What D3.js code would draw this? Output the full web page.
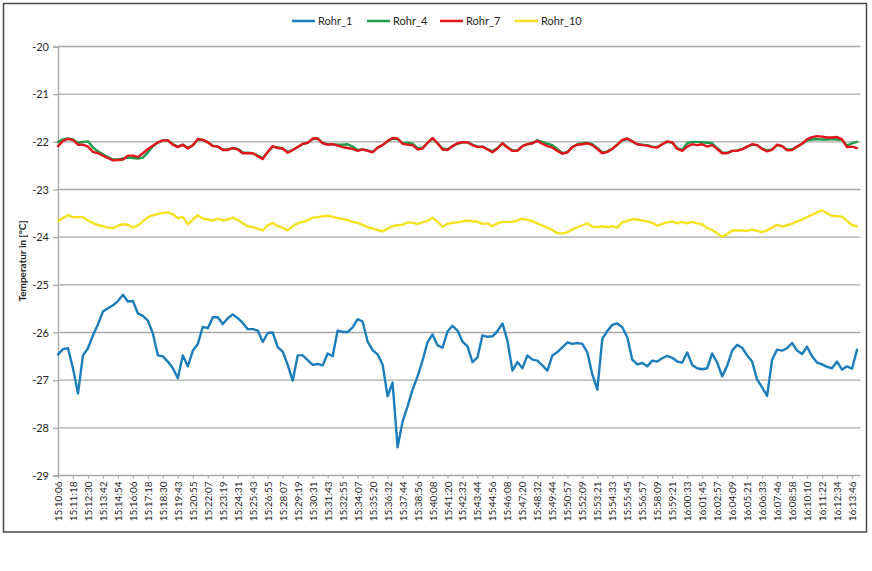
<!DOCTYPE html>
<html>
<head>
<meta charset="utf-8">
<script src="https://cdn.jsdelivr.net/npm/d3@7"></script>
<style>
  html, body { margin: 0; padding: 0; background: #fff; }
  svg { display: block; }
  text { font-family: Lato, "Open Sans", sans-serif; fill: #262626; }
</style>
</head>
<body>
<svg id="chart" width="872" height="571"></svg>
<script>
// ---- Data ----
const timeLabels = ["15:10:06","15:11:18","15:12:30","15:13:42","15:14:54","15:16:06","15:17:18","15:18:30","15:19:43","15:20:55","15:22:07","15:23:19","15:24:31","15:25:43","15:26:55","15:28:07","15:29:19","15:30:31","15:31:43","15:32:55","15:34:07","15:35:20","15:36:32","15:37:44","15:38:56","15:40:08","15:41:20","15:42:32","15:43:44","15:44:56","15:46:08","15:47:20","15:48:32","15:49:44","15:50:57","15:52:09","15:53:21","15:54:33","15:55:45","15:56:57","15:58:09","15:59:21","16:00:33","16:01:45","16:02:57","16:04:09","16:05:21","16:06:33","16:07:46","16:08:58","16:10:10","16:11:22","16:12:34","16:13:46"];
const samplesPerLabel = 3; // one sample every 24 s, a label every 72 s

const seriesNames = ["Rohr_1", "Rohr_4", "Rohr_7", "Rohr_10"];
const yTicks = [-20, -21, -22, -23, -24, -25, -26, -27, -28, -29];

const rohr1 = [-26.46,-26.35,-26.33,-26.75,-27.28,-26.48,-26.33,-26.06,-25.83,-25.56,
-25.49,-25.43,-25.34,-25.21,-25.35,-25.34,-25.60,-25.65,-25.75,-26.02,
-26.48,-26.50,-26.61,-26.75,-26.96,-26.48,-26.71,-26.38,-26.24,-25.88,
-25.91,-25.68,-25.68,-25.82,-25.70,-25.62,-25.70,-25.80,-25.93,-25.93,
-25.96,-26.20,-26.01,-26.00,-26.31,-26.40,-26.68,-27.01,-26.48,-26.48,
-26.58,-26.68,-26.66,-26.69,-26.44,-26.50,-25.96,-25.99,-25.99,-25.89,
-25.72,-25.77,-26.19,-26.37,-26.46,-26.67,-27.34,-27.05,-28.41,-27.87,
-27.55,-27.20,-26.92,-26.59,-26.20,-26.04,-26.27,-26.32,-25.98,-25.86,
-25.96,-26.19,-26.29,-26.62,-26.52,-26.06,-26.09,-26.08,-25.97,-25.81,
-26.17,-26.80,-26.62,-26.75,-26.48,-26.57,-26.59,-26.69,-26.80,-26.48,
-26.41,-26.31,-26.21,-26.24,-26.22,-26.24,-26.42,-26.88,-27.20,-26.13,
-25.97,-25.84,-25.81,-25.89,-26.10,-26.57,-26.67,-26.64,-26.71,-26.59,
-26.61,-26.54,-26.49,-26.53,-26.61,-26.63,-26.42,-26.68,-26.75,-26.77,
-26.75,-26.44,-26.63,-26.92,-26.70,-26.38,-26.26,-26.32,-26.48,-26.61,
-26.99,-27.15,-27.33,-26.57,-26.36,-26.38,-26.33,-26.22,-26.38,-26.45,
-26.30,-26.50,-26.63,-26.67,-26.72,-26.75,-26.61,-26.78,-26.71,-26.76,
-26.36];

const rohr4 = [-22.00,-21.95,-21.93,-21.95,-22.02,-22.00,-21.99,-22.12,-22.20,-22.26,
-22.32,-22.37,-22.37,-22.35,-22.33,-22.34,-22.35,-22.33,-22.22,-22.09,
-22.02,-21.97,-21.97,-22.05,-22.10,-22.06,-22.13,-22.07,-21.95,-21.96,
-22.01,-22.08,-22.10,-22.16,-22.16,-22.13,-22.15,-22.22,-22.23,-22.24,
-22.29,-22.34,-22.22,-22.10,-22.12,-22.14,-22.21,-22.17,-22.11,-22.05,
-22.02,-21.94,-21.93,-22.02,-22.05,-22.05,-22.06,-22.06,-22.05,-22.10,
-22.17,-22.16,-22.18,-22.21,-22.12,-22.07,-21.99,-21.93,-21.94,-22.03,
-22.02,-22.04,-22.13,-22.13,-22.02,-21.93,-22.03,-22.14,-22.16,-22.09,
-22.04,-22.01,-22.01,-22.06,-22.10,-22.10,-22.15,-22.20,-22.13,-22.03,
-22.11,-22.18,-22.18,-22.09,-22.05,-22.03,-21.97,-22.00,-22.04,-22.07,
-22.15,-22.24,-22.21,-22.11,-22.05,-22.03,-22.02,-22.05,-22.13,-22.22,
-22.20,-22.14,-22.06,-21.97,-21.94,-21.99,-22.05,-22.06,-22.07,-22.10,
-22.11,-22.05,-22.00,-22.02,-22.13,-22.17,-22.03,-22.00,-22.00,-22.01,
-22.02,-22.03,-22.13,-22.22,-22.23,-22.19,-22.18,-22.15,-22.10,-22.06,
-22.07,-22.14,-22.18,-22.16,-22.07,-22.09,-22.16,-22.16,-22.10,-22.04,
-21.97,-21.95,-21.94,-21.95,-21.95,-21.94,-21.95,-21.96,-22.08,-22.03,
-22.00];

const rohr7 = [-22.09,-21.98,-21.94,-21.96,-22.06,-22.06,-22.10,-22.21,-22.24,-22.29,
-22.34,-22.39,-22.38,-22.37,-22.29,-22.29,-22.32,-22.24,-22.15,-22.08,
-22.01,-21.97,-21.97,-22.06,-22.11,-22.06,-22.14,-22.07,-21.94,-21.96,
-22.01,-22.09,-22.10,-22.17,-22.17,-22.13,-22.16,-22.24,-22.24,-22.24,
-22.30,-22.36,-22.21,-22.09,-22.13,-22.14,-22.23,-22.17,-22.11,-22.04,
-22.02,-21.93,-21.93,-22.03,-22.06,-22.05,-22.08,-22.11,-22.13,-22.15,
-22.19,-22.16,-22.19,-22.22,-22.12,-22.07,-21.98,-21.92,-21.93,-22.04,
-22.06,-22.07,-22.16,-22.14,-22.02,-21.92,-22.03,-22.16,-22.17,-22.09,
-22.03,-22.01,-22.01,-22.07,-22.11,-22.10,-22.16,-22.22,-22.14,-22.03,
-22.12,-22.19,-22.19,-22.09,-22.05,-22.03,-21.98,-22.04,-22.09,-22.12,
-22.19,-22.25,-22.22,-22.11,-22.06,-22.05,-22.03,-22.07,-22.15,-22.24,
-22.21,-22.15,-22.06,-21.96,-21.93,-21.99,-22.05,-22.07,-22.08,-22.11,
-22.12,-22.05,-21.99,-22.01,-22.15,-22.19,-22.10,-22.05,-22.07,-22.05,
-22.10,-22.07,-22.15,-22.24,-22.24,-22.19,-22.19,-22.16,-22.10,-22.05,
-22.07,-22.15,-22.20,-22.17,-22.06,-22.09,-22.18,-22.17,-22.10,-22.04,
-21.95,-21.90,-21.88,-21.89,-21.91,-21.91,-21.90,-21.95,-22.11,-22.10,
-22.13];

const rohr10 = [-23.66,-23.60,-23.54,-23.58,-23.58,-23.58,-23.65,-23.70,-23.75,-23.77,
-23.80,-23.81,-23.76,-23.73,-23.74,-23.80,-23.75,-23.67,-23.58,-23.54,
-23.51,-23.49,-23.48,-23.52,-23.60,-23.58,-23.73,-23.63,-23.54,-23.61,
-23.63,-23.65,-23.61,-23.65,-23.63,-23.59,-23.64,-23.71,-23.77,-23.79,
-23.82,-23.86,-23.75,-23.70,-23.77,-23.80,-23.86,-23.77,-23.71,-23.68,
-23.65,-23.59,-23.58,-23.56,-23.55,-23.57,-23.60,-23.62,-23.64,-23.68,
-23.70,-23.74,-23.79,-23.82,-23.85,-23.88,-23.82,-23.77,-23.75,-23.74,
-23.69,-23.70,-23.72,-23.69,-23.66,-23.59,-23.68,-23.78,-23.72,-23.70,
-23.69,-23.67,-23.65,-23.67,-23.67,-23.72,-23.71,-23.77,-23.71,-23.68,
-23.68,-23.68,-23.65,-23.61,-23.64,-23.66,-23.71,-23.76,-23.80,-23.85,
-23.92,-23.92,-23.90,-23.84,-23.79,-23.75,-23.71,-23.78,-23.79,-23.77,
-23.79,-23.77,-23.80,-23.69,-23.66,-23.62,-23.63,-23.65,-23.67,-23.70,
-23.76,-23.72,-23.69,-23.67,-23.71,-23.68,-23.71,-23.68,-23.71,-23.73,
-23.81,-23.85,-23.92,-23.99,-23.94,-23.86,-23.86,-23.86,-23.87,-23.84,
-23.87,-23.89,-23.86,-23.80,-23.74,-23.78,-23.75,-23.72,-23.67,-23.63,
-23.58,-23.53,-23.48,-23.44,-23.50,-23.55,-23.56,-23.57,-23.66,-23.75,
-23.77];

const seriesColors = ["#1b7dba", "#1c9c4c", "#e3141c", "#f5e11e"];

// ---- Layout ----
const svg = d3.select("#chart");
const W = 872, H = 571;
const plot = { left: 58, right: 860.5, top: 46.5, bottom: 475.5 };

svg.append("rect").attr("x", 0).attr("y", 0).attr("width", W).attr("height", H).attr("fill", "#fff");
// outer frame
svg.append("rect").attr("x", 3.5).attr("y", 3.5).attr("width", 863).attr("height", 528.5)
  .attr("fill", "none").attr("stroke", "#4a4a4a").attr("stroke-width", 1.5);

const nSamples = rohr1.length;
const x = d3.scaleLinear().domain([0, nSamples - 0.3]).range([plot.left, plot.right]);
const y = d3.scaleLinear().domain([-20, -29]).range([plot.top, plot.bottom]);

// gridlines
svg.append("g").selectAll("line").data(yTicks).join("line")
  .attr("x1", plot.left).attr("x2", plot.right)
  .attr("y1", d => y(d)).attr("y2", d => y(d))
  .attr("stroke", "#a8a8a8").attr("stroke-width", 1.4);

// y axis
const yAxis = d3.axisLeft(y).tickValues(yTicks).tickSize(5).tickPadding(4)
  .tickFormat(d => d3.format("d")(d).replace("\u2212", "-"));
const gy = svg.append("g").attr("transform", `translate(${plot.left},0)`).call(yAxis);
gy.select(".domain").attr("stroke", "#a8a8a8").attr("stroke-width", 1.4);
gy.selectAll(".tick line").attr("stroke", "#a8a8a8").attr("stroke-width", 1.2);
gy.selectAll(".tick text").attr("font-size", "11px").attr("fill", "#333")
  .style("font-family", "Lato, sans-serif");

// x axis
const labelIdx = timeLabels.map((_, k) => k * samplesPerLabel);
const xAxis = d3.axisBottom(x).tickValues(labelIdx).tickSize(3).tickPadding(4)
  .tickFormat((d, k) => timeLabels[k]);
const gx = svg.append("g").attr("transform", `translate(0,${plot.bottom})`).call(xAxis);
gx.select(".domain").remove();
gx.selectAll(".tick line").attr("stroke", "#a8a8a8").attr("stroke-width", 1.2);
gx.selectAll(".tick text")
  .attr("font-size", "10px").attr("fill", "#333").style("font-family", "Lato, sans-serif")
  .attr("text-anchor", "end")
  .attr("transform", "rotate(-90)")
  .attr("x", -6).attr("y", 0).attr("dy", "0.35em");

// y axis title
svg.append("text")
  .attr("transform", `translate(22,${(plot.top + plot.bottom) / 2}) rotate(-90)`)
  .attr("text-anchor", "middle").attr("dy", "0.35em")
  .attr("font-size", "10px").attr("font-weight", "bold")
  .text("Temperatur in [°C]");

// lines
const allSeries = [rohr1, rohr4, rohr7, rohr10];
const line = d3.line().x((d, i) => x(i)).y(d => y(d)).curve(d3.curveLinear);
svg.append("g").selectAll("path").data(allSeries).join("path")
  .attr("d", d => line(d))
  .attr("fill", "none")
  .attr("stroke", (d, i) => seriesColors[i])
  .attr("stroke-width", 2.4)
  .attr("stroke-linejoin", "round")
  .attr("stroke-linecap", "round");

// legend
const legendX = [292, 367, 440, 515];
const lg = svg.append("g").selectAll("g").data(seriesNames).join("g")
  .attr("transform", (d, i) => `translate(${legendX[i]},21)`);
lg.append("line").attr("x1", 0).attr("x2", 23).attr("y1", 0).attr("y2", 0)
  .attr("stroke", (d, i) => seriesColors[i]).attr("stroke-width", 2.5);
lg.append("text").attr("x", 26).attr("y", 0).attr("dy", "0.35em")
  .attr("font-size", "11px").text(d => d);
</script>
</body>
</html>
